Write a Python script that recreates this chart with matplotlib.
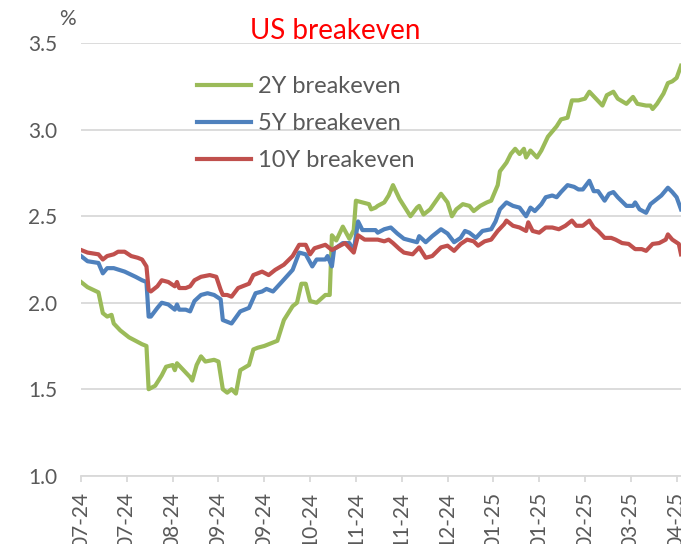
import pandas as pd
import matplotlib.pyplot as plt
import matplotlib.dates as mdates

plt.rcParams['font.family'] = ['Lato', 'DejaVu Sans']

# day offsets from the first observation, values in %
start = pd.Timestamp('2024-07-03')

y2_day = [0, 3, 8, 10, 12, 14, 15, 18, 22, 25, 28, 30, 31, 34, 37, 39, 42, 43, 44, 47, 50, 51, 53, 55, 57, 61, 63, 65, 67,
          69, 71, 73, 77, 79, 81, 84, 86, 90, 93, 97, 99, 101, 103, 105, 108, 112, 114, 115, 117, 120, 123, 125, 126, 129,
          132, 133, 135, 136, 139, 141, 143, 146, 148, 151, 154, 155, 157, 160, 165, 168, 170, 172, 175, 178, 180, 183,
          186, 188, 191, 192, 195, 197, 199, 201, 203, 204, 206, 209, 211, 214, 216, 218, 220, 223, 225, 228, 231, 233,
          236, 239, 241, 244, 246, 250, 253, 255, 259, 261, 262, 264, 267, 269, 271, 273, 275]
y2_val = [2.12, 2.09, 2.06, 1.94, 1.92, 1.93, 1.88, 1.84, 1.80, 1.78, 1.76, 1.75, 1.50, 1.52, 1.58, 1.63, 1.64, 1.61, 1.65,
          1.61, 1.57, 1.55, 1.64, 1.69, 1.66, 1.67, 1.66, 1.50, 1.48,
          1.50, 1.475, 1.61, 1.64, 1.73, 1.74, 1.75, 1.76, 1.78, 1.90, 1.98, 2.00, 2.11, 2.11, 2.01, 2.00, 2.045, 2.045,
          2.39, 2.36, 2.44, 2.37, 2.42, 2.59, 2.58, 2.57, 2.54, 2.55, 2.56, 2.58, 2.62, 2.68, 2.60, 2.56, 2.50, 2.55,
          2.56, 2.51, 2.54, 2.63, 2.58, 2.50, 2.54, 2.57, 2.56, 2.53, 2.56, 2.58, 2.59, 2.68, 2.76, 2.81, 2.86, 2.89,
          2.86, 2.89, 2.84, 2.88, 2.84, 2.88, 2.96, 2.99, 3.02, 3.06, 3.07, 3.17, 3.17, 3.18, 3.22, 3.18, 3.14, 3.20,
          3.22, 3.18, 3.15, 3.19, 3.15, 3.14, 3.14, 3.12, 3.15, 3.21, 3.27, 3.28, 3.30, 3.37]

y5_day = [0, 3, 8, 10, 12, 15, 20, 25, 28, 30, 31, 32, 35, 37, 40, 43, 44, 45, 48, 50, 52, 55, 58, 61, 64, 65, 67,
          69, 73, 77, 80, 83, 85, 88, 92, 97, 100, 103, 106, 108, 112, 113, 115, 116, 120, 123, 125, 127, 129, 135,
          136, 139, 142, 145, 148, 151, 154, 155, 158, 161, 165, 168, 171, 174, 176, 178, 181, 184, 188, 190, 192,
          195, 198, 201, 204, 206, 208, 211, 213, 216, 218, 220, 223, 226, 228, 230, 233, 235, 237, 240, 242, 244,
          246, 250, 253, 254, 256, 259, 261, 264, 266, 269, 271, 273, 275]
y5_val = [2.27, 2.24, 2.23, 2.17, 2.20, 2.20, 2.18, 2.15, 2.13, 2.12, 1.92, 1.92, 1.97, 2.00, 1.99, 1.96, 1.99, 1.96,
          1.96, 1.95, 2.01, 2.045, 2.055, 2.045, 2.02, 1.90, 1.89,
          1.88, 1.95, 1.97, 2.055, 2.065, 2.08, 2.065, 2.12, 2.19, 2.29, 2.28, 2.21, 2.25, 2.25, 2.27, 2.21, 2.31,
          2.345, 2.345, 2.30, 2.47, 2.42, 2.42,
          2.405, 2.425, 2.435, 2.40, 2.37, 2.36, 2.35, 2.385, 2.35, 2.385, 2.425, 2.40, 2.35, 2.375, 2.415, 2.405,
          2.375, 2.415, 2.425, 2.47, 2.54, 2.58, 2.56, 2.55, 2.50, 2.55, 2.53, 2.57, 2.61, 2.62, 2.61, 2.64, 2.68,
          2.67, 2.655, 2.655, 2.705, 2.645, 2.645, 2.59, 2.63, 2.64, 2.61, 2.56, 2.56, 2.58, 2.54, 2.52, 2.57, 2.60,
          2.62, 2.665, 2.64, 2.61, 2.54]

y10_day = [0, 3, 8, 10, 12, 15, 17, 20, 23, 26, 28, 30, 31, 32, 35, 37, 40, 43, 44, 45, 48, 50, 52, 55, 59, 62, 64, 65,
           67, 69, 72, 77, 79, 83, 86, 89, 93, 97, 100, 103, 105, 107, 112, 115, 118, 121, 125, 127, 130, 135,
           136, 139, 141, 143, 146, 148, 152, 155, 158, 161, 165, 168, 171, 174, 177, 180, 182, 185, 188, 191, 194,
           195, 198, 201, 204, 205, 207, 210, 213, 216, 219, 222, 225, 227, 230, 233, 235, 237, 240, 243, 245, 248,
           251, 254, 257, 259, 262, 265, 268, 269, 271, 274, 275]
y10_val = [2.305, 2.29, 2.28, 2.25, 2.27, 2.28, 2.295, 2.295, 2.27, 2.26, 2.25, 2.21, 2.075, 2.065, 2.095, 2.13, 2.12,
           2.095, 2.12, 2.085, 2.085, 2.095, 2.13, 2.15, 2.16, 2.15, 2.075, 2.045,
           2.045, 2.035, 2.085, 2.11, 2.16, 2.18, 2.16, 2.19, 2.22, 2.27, 2.335, 2.335, 2.28, 2.315, 2.335, 2.305,
           2.325, 2.345, 2.29, 2.39, 2.365, 2.365,
           2.365, 2.355, 2.365, 2.345, 2.31, 2.29, 2.28, 2.32, 2.26, 2.27, 2.32, 2.33, 2.30, 2.34, 2.365, 2.355,
           2.33, 2.355, 2.365, 2.415, 2.455, 2.475, 2.445, 2.435, 2.415, 2.465, 2.415, 2.405, 2.435, 2.435, 2.425,
           2.445, 2.475, 2.445, 2.445, 2.475, 2.435, 2.415, 2.375, 2.375, 2.365, 2.345, 2.34, 2.31, 2.31, 2.30,
           2.34, 2.345, 2.365, 2.395, 2.365, 2.34, 2.28]

names = ['2Y breakeven', '5Y breakeven', '10Y breakeven']
colors = ['#9BBB59', '#4F81BD', '#C0504D']

tick_labels_days = list(range(0, 274, 21))

fig = plt.figure(figsize=(6.81, 5.44), dpi=100)
ax = fig.add_axes([81 / 681, 1 - 475.7 / 544, 600 / 681, (475.7 - 43.3) / 544])

for days, vals, name, c in zip([y2_day, y5_day, y10_day], [y2_val, y5_val, y10_val], names, colors):
    dates = [start + pd.Timedelta(days=d) for d in days]
    ax.plot(dates, vals, color=c, lw=3, label=name, solid_joinstyle='round')

ax.set_ylim(1.0, 3.5)
ax.set_yticks([1.0, 1.5, 2.0, 2.5, 3.0, 3.5])
ax.set_yticklabels(['1.0', '1.5', '2.0', '2.5', '3.0', '3.5'])
ax.set_xlim(start, start + pd.Timedelta(days=275))
ticks = [start + pd.Timedelta(days=d) for d in tick_labels_days]
ax.set_xticks(ticks)
ax.xaxis.set_major_formatter(mdates.DateFormatter('%m-%y'))
for lab in ax.get_xticklabels():
    lab.set_rotation(90)

ax.grid(axis='y', color='#d9d9d9', lw=1.3)
ax.set_axisbelow(True)
for s in ['top', 'right', 'left']:
    ax.spines[s].set_visible(False)
ax.spines['bottom'].set_color('#d9d9d9')
ax.spines['bottom'].set_linewidth(1.3)
ax.tick_params(axis='y', length=0, pad=17, labelsize=15, labelcolor='#595959')
ax.tick_params(axis='x', length=4.5, width=1.3, color='#d9d9d9', pad=7, labelsize=15, labelcolor='#595959')

fig.text(67 / 681, 1 - 19 / 544, '%', ha='center', va='center', fontsize=15, color='#595959')
fig.text(335 / 681, 1 - 31 / 544, 'US breakeven', ha='center', va='center', fontsize=20, color='#FF0000')

ax.legend(loc='upper left', bbox_to_anchor=(197 / 681, 1 - 76 / 544), bbox_transform=fig.transFigure,
          frameon=False, fontsize=17, labelcolor='#595959', borderpad=0, borderaxespad=0,
          handlelength=2.3, handletextpad=0.3, labelspacing=0.68)

plt.savefig('out.png', dpi=100)
